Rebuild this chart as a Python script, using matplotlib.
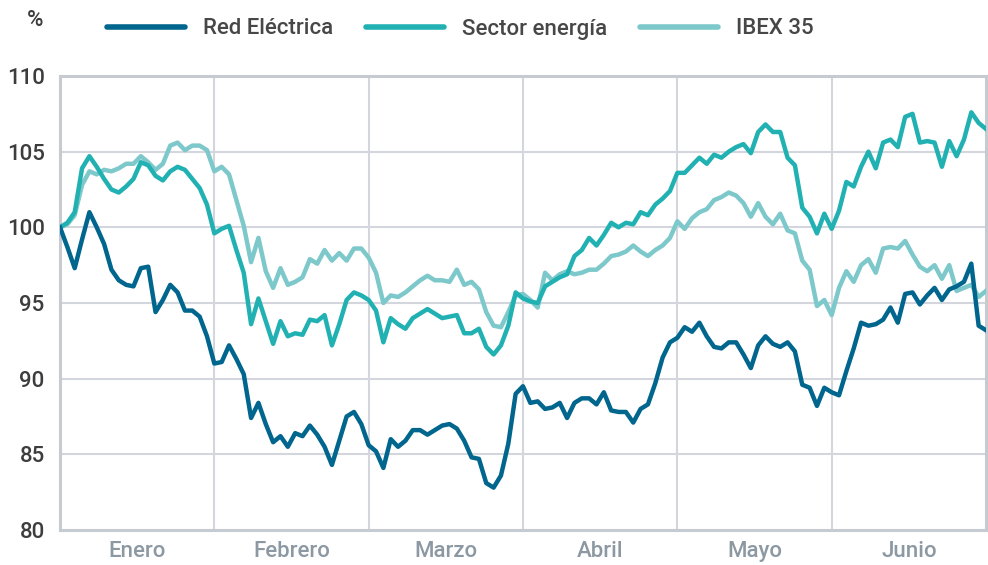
import matplotlib.pyplot as plt
import numpy as np

# Base 100 index, one value per trading day (21 per month)
months = ['Enero', 'Febrero', 'Marzo', 'Abril', 'Mayo', 'Junio']
days_per_month = 21

red_electrica = [
    100.0, 98.7, 97.3, 99.2, 101.0, 100.0, 98.9, 97.2, 96.5, 96.2, 96.1, 97.3, 97.4, 94.4, 95.2, 96.2, 95.7, 94.5, 94.5, 94.1, 92.8,
    91.0, 91.1, 92.2, 91.3, 90.3, 87.4, 88.4, 87.0, 85.8, 86.2, 85.5, 86.4, 86.2, 86.9, 86.3, 85.5, 84.3, 85.9, 87.5, 87.8, 87.0, 85.6, 85.2,
    84.1, 86.0, 85.5, 85.9, 86.6, 86.6, 86.3, 86.6, 86.9, 87.0, 86.7, 85.9, 84.8, 84.7, 83.1, 82.8, 83.6, 85.7, 89.0, 89.5, 88.4,
    88.5, 88.0, 88.1, 88.4, 87.4, 88.4, 88.7, 88.7, 88.3, 89.1, 87.9, 87.8, 87.8, 87.1, 88.0, 88.3, 89.7, 91.4, 92.4, 92.7, 93.4,
    93.1, 93.7, 92.8, 92.1, 92.0, 92.4, 92.4, 91.6, 90.7, 92.2, 92.8, 92.3, 92.1, 92.4, 91.8, 89.6, 89.4, 88.2, 89.4, 89.1, 88.9,
    90.5, 92.0, 93.7, 93.5, 93.6, 93.9, 94.7, 93.7, 95.6, 95.7, 94.9, 95.5, 96.0, 95.2, 95.9, 96.1, 96.4, 97.6, 93.5, 93.2,
]

sector_energia = [
    100.0, 100.3, 101.0, 103.9, 104.7, 104.0, 103.2, 102.5, 102.3, 102.7, 103.2, 104.3, 104.1, 103.4, 103.1, 103.7, 104.0, 103.8, 103.2, 102.6, 101.5,
    99.6, 99.9, 100.1, 98.5, 97.0, 93.6, 95.3, 93.8, 92.3, 93.8, 92.8, 93.0, 92.9, 93.9, 93.8, 94.2, 92.2, 93.6, 95.2, 95.7, 95.5, 95.2,
    94.5, 92.4, 94.0, 93.6, 93.3, 94.0, 94.3, 94.6, 94.3, 94.0, 94.1, 94.2, 93.0, 93.0, 93.3, 92.1, 91.6, 92.2, 93.5, 95.7, 95.3, 95.1,
    95.0, 96.1, 96.4, 96.7, 96.9, 98.1, 98.5, 99.3, 98.8, 99.5, 100.3, 100.0, 100.3, 100.2, 101.0, 100.8, 101.5, 101.9, 102.4, 103.6, 103.6,
    104.1, 104.6, 104.2, 104.8, 104.6, 105.0, 105.3, 105.5, 104.9, 106.3, 106.8, 106.3, 106.3, 104.6, 104.1, 101.3, 100.7, 99.6, 100.9, 99.9, 101.1,
    103.0, 102.7, 104.0, 105.0, 103.9, 105.6, 105.8, 105.3, 107.3, 107.5, 105.6, 105.7, 105.6, 104.0, 105.7, 104.7, 105.8, 107.6, 106.9, 106.5,
]

ibex_35 = [
    100.0, 100.2, 100.8, 102.8, 103.7, 103.5, 103.8, 103.7, 103.9, 104.2, 104.2, 104.7, 104.3, 103.8, 104.2, 105.4, 105.6, 105.1, 105.4, 105.4, 105.1,
    103.7, 104.0, 103.5, 101.8, 100.1, 97.7, 99.3, 97.1, 96.0, 97.3, 96.2, 96.4, 96.7, 97.9, 97.6, 98.5, 97.8, 98.3, 97.8, 98.6, 98.6, 98.0,
    97.0, 95.0, 95.5, 95.4, 95.7, 96.1, 96.5, 96.8, 96.5, 96.5, 96.4, 97.2, 96.2, 96.4, 95.9, 94.4, 93.5, 93.4, 94.4, 95.5, 95.6, 95.2,
    94.7, 97.0, 96.5, 96.9, 97.1, 96.9, 97.0, 97.2, 97.2, 97.6, 98.1, 98.2, 98.4, 98.8, 98.4, 98.1, 98.5, 98.8, 99.3, 100.4, 99.9,
    100.6, 101.0, 101.2, 101.8, 102.0, 102.3, 102.1, 101.6, 100.7, 101.6, 100.7, 100.2, 100.9, 99.8, 99.6, 97.8, 97.2, 94.8, 95.2, 94.2, 96.0,
    97.1, 96.4, 97.5, 97.9, 97.0, 98.6, 98.7, 98.6, 99.1, 98.2, 97.4, 97.1, 97.5, 96.6, 97.5, 95.8, 96.0, 96.2, 95.4, 95.8,
]

series = [
    ('IBEX 35', ibex_35, '#7dc8ca'),
    ('Sector energía', sector_energia, '#22b1b2'),
    ('Red Eléctrica', red_electrica, '#00668e'),
]

plt.rcParams['font.family'] = ['Roboto', 'DejaVu Sans']
plt.rcParams['font.weight'] = 'medium'

grid_color = '#d3d7dd'
spine_color = '#c6cbd2'

fig = plt.figure(figsize=(9.88, 5.65), dpi=100)
ax = fig.add_axes([60 / 988, 1 - 530 / 565, 926 / 988, 454 / 565])

x = np.arange(len(red_electrica))
handles = {}
for name, values, color in series:
    line, = ax.plot(x, values, color=color, lw=3.2, label=name, zorder=3)
    handles[name] = line

ax.set_xlim(0, len(red_electrica) - 1)
ax.set_ylim(80, 110)

# horizontal grid and vertical month separators
for y in range(85, 110, 5):
    ax.axhline(y, color=grid_color, lw=1.5, zorder=1)
for k in range(1, len(months)):
    ax.axvline(k * days_per_month, color=grid_color, lw=1.5, zorder=1)

for side in ['left', 'right', 'top', 'bottom']:
    ax.spines[side].set_color(spine_color)
    ax.spines[side].set_linewidth(2.2)

ax.set_yticks(range(80, 111, 5))
ax.tick_params(axis='y', length=0, pad=11, labelsize=16, labelcolor='#3d3d3d')

centers = [k * days_per_month + days_per_month / 2 for k in range(len(months))]
ax.set_xticks(centers)
ax.set_xticklabels(months)
ax.tick_params(axis='x', length=0, pad=8, labelsize=16, labelcolor='#8c98a2')

fig.text(35 / 988, 1 - 21 / 565, '%', ha='center', va='center', fontsize=16, color='#3d3d3d')

order = ['Red Eléctrica', 'Sector energía', 'IBEX 35']
leg = fig.legend([handles[n] for n in order], order, loc='center left',
                 bbox_to_anchor=(107 / 988, 1 - 29 / 565), ncol=3, frameon=False,
                 fontsize=16, handlelength=3.5, handletextpad=0.8, columnspacing=1.5,
                 borderpad=0, borderaxespad=0)
for t in leg.get_texts():
    t.set_color('#474747')
for h in leg.get_lines():
    h.set_linewidth(4)
    h.set_solid_capstyle('round')

fig.savefig('out.png', dpi=100)
